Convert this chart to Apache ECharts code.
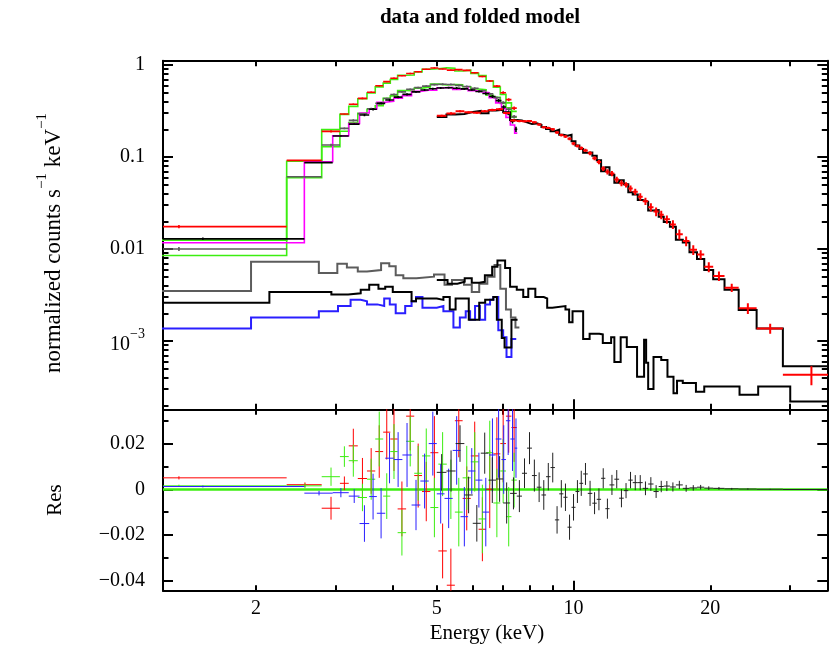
<!DOCTYPE html>
<html><head><meta charset="utf-8">
<script src="https://cdn.jsdelivr.net/npm/echarts@6/dist/echarts.min.js"></script>
<style>html,body{margin:0;padding:0;background:#fff}#c{width:830px;height:645px}</style>
</head><body><div id="c"></div>
<script>
// ---------------- data (energies in keV, values in counts s^-1 keV^-1) ----------------
const specA_edges = [0.37, 2.336, 2.79, 3.06, 3.2, 3.35, 3.51, 3.66, 3.81, 3.95, 4.1, 4.28, 4.46, 4.64, 4.84, 5.04, 5.26, 5.48, 5.7, 5.94, 6.18, 6.42, 6.66, 6.9, 7.1, 7.3, 7.5];
const specA_val = [0.0175, 0.092, 0.19, 0.293, 0.374, 0.434, 0.505, 0.595, 0.66, 0.717, 0.765, 0.81, 0.846, 0.898, 0.928, 0.905, 0.88, 0.89, 0.875, 0.825, 0.75, 0.67, 0.59, 0.50, 0.42, 0.34];
const specA_err = [0.0007, 0.001, 0.005, 0.003, 0.0075, 0.009, 0.01, 0.0115, 0.012, 0.014, 0.012, 0.015, 0.014, 0.013, 0.016, 0.012, 0.016, 0.016, 0.014, 0.015, 0.014, 0.017, 0.016, 0.017, 0.016, 0.015];
const specA_res = [0.005, 0.002, -0.0083, 0.0026, 0.019, 0.0047, 0.008, 0.0165, 0.025, 0.022, -0.0086, 0.032, 0.006, -0.001, 0.016, -0.027, -0.042, 0.030, -0.004, 0.0146, -0.0175, 0.0, 0.0155, 0.02, 0.032, 0.027];

const specB_edges = [0.37, 2.336, 2.79, 3.06, 3.2, 3.35, 3.51, 3.66, 3.81, 3.95, 4.1, 4.28, 4.46, 4.64, 4.84, 5.04, 5.26, 5.48, 5.7, 5.94, 6.18, 6.42, 6.66, 6.9, 7.1, 7.3, 7.5];
const specB_val = [0.010, 0.061, 0.135, 0.205, 0.250, 0.295, 0.335, 0.383, 0.432, 0.478, 0.51, 0.545, 0.568, 0.59, 0.612, 0.618, 0.615, 0.60, 0.585, 0.56, 0.525, 0.485, 0.44, 0.39, 0.33, 0.275];
const specB_err = [0.0005, 0.001, 0.004, 0.0045, 0.007, 0.006, 0.009, 0.012, 0.01, 0.012, 0.01, 0.011, 0.012, 0.012, 0.013, 0.014, 0.013, 0.015, 0.014, 0.013, 0.015, 0.014, 0.015, 0.014, 0.013, 0.012];
const specB_res = [0.0015, 0.0015, 0.0055, 0.0143, 0.0125, -0.0036, 0.0044, 0.022, -0.003, 0.0165, -0.019, 0.021, 0.007, 0.0146, -0.008, 0.011, 0.0, -0.010, 0.005, 0.012, -0.013, 0.016, -0.006, 0.008, -0.012, 0.004];

const specC_edges = [0.5, 2.555, 2.95, 3.2, 3.38, 3.55, 3.69, 3.85, 4.02, 4.2, 4.4, 4.6, 4.8, 5.0, 5.2, 5.42, 5.64, 5.86, 6.08, 6.3, 6.52, 6.74, 6.94, 7.1, 7.26, 7.42, 7.52];
const specC_val = [0.0129, 0.087, 0.169, 0.228, 0.286, 0.33, 0.383, 0.416, 0.448, 0.48, 0.51, 0.535, 0.552, 0.563, 0.567, 0.56, 0.55, 0.535, 0.515, 0.49, 0.455, 0.41, 0.35, 0.30, 0.245, 0.20];
const specC_err = [0.0004, 0.001, 0.002, 0.003, 0.008, 0.01, 0.011, 0.011, 0.012, 0.014, 0.011, 0.012, 0.014, 0.013, 0.013, 0.015, 0.013, 0.01, 0.012, 0.015, 0.016, 0.017, 0.015, 0.015, 0.014, 0.013];
const specC_res = [0.0012, -0.0017, -0.0015, -0.003, -0.015, -0.0032, -0.0105, 0.0136, 0.013, 0.015, -0.0069, 0.0036, 0.020, -0.002, -0.004, 0.017, -0.012, 0.008, 0.004, -0.010, 0.015, 0.022, 0.013, 0.030, 0.022, 0.018];

const specD_edges = [5.0, 5.25, 5.5, 5.75, 6.0, 6.25, 6.5, 6.75, 7.0, 7.25, 7.5, 7.7, 7.9, 8.1, 8.3, 8.5, 8.7, 8.9, 9.1, 9.3, 9.5, 9.7, 9.9, 10.1, 10.3, 10.5, 10.75, 11.0, 11.25, 11.5, 11.75, 12.0, 12.3, 12.6, 12.9, 13.2, 13.5, 13.85, 14.2, 14.6, 15.0, 15.4, 15.8, 16.3, 16.8, 17.4, 18.0, 18.7, 19.4, 20.3, 21.5, 23.1, 25.3, 28.9, 37.9];
const specD_val = [0.280, 0.298, 0.314, 0.306, 0.303, 0.315, 0.324, 0.330, 0.300, 0.250, 0.246, 0.245, 0.246, 0.238, 0.225, 0.210, 0.207, 0.200, 0.185, 0.173, 0.167, 0.158, 0.140, 0.132, 0.125, 0.118, 0.110, 0.097, 0.088, 0.075, 0.069, 0.066, 0.057, 0.052, 0.050, 0.0455, 0.042, 0.037, 0.033, 0.0285, 0.0255, 0.0236, 0.021, 0.0185, 0.0145, 0.0122, 0.0098, 0.0087, 0.0064, 0.0051, 0.0038, 0.00227, 0.00137, 0.00043];
const specD_err = [0.008, 0.009, 0.008, 0.008, 0.008, 0.009, 0.01, 0.01, 0.009, 0.007, 0.007, 0.0065, 0.007, 0.007, 0.0065, 0.0065, 0.006, 0.0065, 0.006, 0.006, 0.006, 0.0055, 0.0058, 0.005, 0.0055, 0.0048, 0.0055, 0.0048, 0.0048, 0.0044, 0.0044, 0.0044, 0.004, 0.004, 0.0033, 0.0036, 0.0033, 0.0033, 0.003, 0.003, 0.0028, 0.0025, 0.0022, 0.002, 0.0018, 0.0015, 0.0012, 0.001, 0.0008, 0.0006, 0.0004, 0.0003, 0.00017, 0.0001];
const specD_res = [0.0074, 0.008, 0.020, -0.0025, -0.0149, 0.0158, 0.004, 0.0045, -0.006, -0.0018, -0.003, 0.007, 0.018, 0.006, 0.0009, -0.0025, 0.0055, 0.0095, -0.0134, -0.002, -0.0035, -0.0166, -0.0079, -0.001, 0.0026, 0.0067, -0.0018, -0.0061, -0.0044, 0.0048, -0.0085, 0.0019, 0.0044, -0.0039, -0.0006, 0.004, 0.0029, 0.0029, 0.0004, 0.0023, -0.001, 0.0012, 0.0014, 0.001, 0.0019, 0.0004, 0.0006, 0.0009, 0.0005, 0.0004, 0.0002, 0.0001, 0.0, -0.0001];

const bgGray_edges = [0.4, 1.95, 2.75, 3.02, 3.17, 3.35, 3.51, 3.77, 3.93, 4.06, 4.22, 4.51, 4.93, 5.2, 5.4, 5.74, 5.97, 6.2, 6.46, 6.7, 6.9, 7.1, 7.28, 7.45, 7.6];
const bgGray_val = [0.00349, 0.00727, 0.0055, 0.0069, 0.0063, 0.0057, 0.0059, 0.0070, 0.0065, 0.0052, 0.0048, 0.0050, 0.0053, 0.0041, 0.0046, 0.0041, 0.0034, 0.0042, 0.0050, 0.0067, 0.0037, 0.0022, 0.0018, 0.0014];

const bgBlue_edges = [0.4, 1.95, 2.75, 3.03, 3.23, 3.4, 3.51, 3.7, 3.83, 3.94, 4.06, 4.26, 4.4, 4.5, 4.65, 5.0, 5.17, 5.44, 5.62, 5.79, 5.92, 6.07, 6.22, 6.39, 6.55, 6.66, 6.83, 7.0, 7.12, 7.3, 7.48];
const bgBlue_val = [0.00137, 0.0018, 0.0021, 0.0024, 0.0028, 0.0027, 0.0025, 0.0024, 0.0029, 0.0025, 0.002, 0.0024, 0.0027, 0.003, 0.0023, 0.0024, 0.0021, 0.0014, 0.0018, 0.0021, 0.0017, 0.0024, 0.0017, 0.0025, 0.0028, 0.003, 0.00131, 0.0011, 0.00067, 0.00105];

const bgBlackLo_edges = [0.4, 2.14, 2.93, 3.19, 3.4, 3.55, 3.72, 3.85, 4.0, 4.4, 4.5, 5.0, 5.17, 5.34, 5.5, 5.88, 6.0, 6.2, 6.39, 6.66, 6.78, 6.95, 7.05, 7.3, 7.53];
const bgBlackLo_val = [0.0026, 0.0034, 0.0032, 0.0033, 0.0036, 0.0041, 0.0037, 0.0039, 0.0034, 0.0027, 0.0029, 0.0028, 0.0030, 0.0022, 0.0029, 0.0017, 0.0017, 0.0026, 0.0028, 0.0030, 0.0017, 0.00108, 0.00085, 0.0017];

const bgBlackHi_edges = [5.0, 5.28, 5.55, 5.76, 5.97, 6.2, 6.38, 6.62, 6.8, 7.07, 7.25, 7.5, 7.75, 7.95, 8.24, 8.6, 8.75, 8.98, 9.6, 9.78, 9.95, 10.5, 10.85, 11.4, 11.6, 12.1, 12.3, 12.7, 13.1, 13.8, 14.3, 14.45, 14.6, 15.0, 15.6, 16.1, 16.6, 16.9, 17.4, 18.6, 19.4, 23.2, 25.5, 30.0, 37.9];
const bgBlackHi_val = [0.0046, 0.0042, 0.0044, 0.0048, 0.0043, 0.0044, 0.0052, 0.0064, 0.0075, 0.0062, 0.0039, 0.0036, 0.0030, 0.0037, 0.0030, 0.0029, 0.0023, 0.0024, 0.0022, 0.0016, 0.0021, 0.00105, 0.0012, 0.00118, 0.00095, 0.0011, 0.00059, 0.0011, 0.00086, 0.00041, 0.00103, 0.00058, 0.0003, 0.00067, 0.00062, 0.00041, 0.00027, 0.00037, 0.00035, 0.00028, 0.00032, 0.00026, 0.00032, 0.00022];

// axis ranges and ticks
const X_MIN = 1.248, X_MAX = 36.2;
const TOP_Y_MIN = 1.81e-4, TOP_Y_MAX = 1.114;
const RES_Y_MIN = -0.0444, RES_Y_MAX = 0.035;
const xLabelValues = [2, 5, 10, 20];
const xLabelTexts = ['2', '5', '10', '20'];
const xMajorTicks = [10];
const xMinorTicks = [2, 3, 4, 5, 6, 7, 8, 9, 20, 30];
const topYLabelValues = [0.001, 0.01, 0.1, 1];
const topYLabelTexts = ['10^−3', '0.01', '0.1', '1'];
const resYLabelValues = [-0.04, -0.02, 0, 0.02];
const resYLabelTexts = ['−0.04', '−0.02', '0', '0.02'];
const resYMinorTicks = [-0.03, -0.01, 0.01, 0.03];

// ---------------- helpers ----------------
const FONT = 'Liberation Serif';
const topYMinorTicks = [];
[1e-4, 1e-3, 1e-2, 1e-1].forEach(d => { for (let m = 2; m <= 9; m++) topYMinorTicks.push(+(m * d).toPrecision(3)); });

function steps(edges, vals) {
  const pts = [];
  vals.forEach((v, i) => { pts.push([edges[i], v]); pts.push([edges[i + 1], v]); });
  return pts;
}
function modelOf(vals, res) { return vals.map((v, i) => v - res[i]); }
function crossData(edges, vals, errs) {
  return vals.map((v, i) => [(edges[i] + edges[i + 1]) / 2, v, edges[i], edges[i + 1], errs[i]]);
}
function stepSeries(edges, vals, color, width, xi, yi, z) {
  return { type: 'line', xAxisIndex: xi, yAxisIndex: yi, data: steps(edges, vals), symbol: 'none', showSymbol: false,
    silent: true, animation: false, z: z, clip: true,
    lineStyle: { color: color, width: width, join: 'miter' } };
}
function crossSeries(data, color, width, xi, yi, isLog, z) {
  return { type: 'custom', xAxisIndex: xi, yAxisIndex: yi, data: data, clip: true, silent: true, animation: false, z: z,
    encode: { x: 0, y: 1 },
    renderItem: function (params, api) {
      const c = api.value(0), v = api.value(1), lo = api.value(2), hi = api.value(3), e = api.value(4);
      const low = isLog ? Math.max(v - e, v * 0.05) : v - e;
      const a = api.coord([lo, v]), b = api.coord([hi, v]);
      const t = api.coord([c, v + e]), d = api.coord([c, low]);
      const st = { stroke: color, lineWidth: width, fill: null };
      return { type: 'group', children: [
        { type: 'line', shape: { x1: a[0], y1: a[1], x2: b[0], y2: b[1] }, style: st },
        { type: 'line', shape: { x1: t[0], y1: t[1], x2: d[0], y2: d[1] }, style: st }
      ] };
    } };
}
function resData(edges, res, errs) {
  return res.map((r, i) => [(edges[i] + edges[i + 1]) / 2, r, edges[i], edges[i + 1], errs[i]]);
}
function pickLabel(values, texts, v) {
  let best = 0, bd = Infinity;
  values.forEach((x, i) => { const dd = Math.abs(x - v); if (dd < bd) { bd = dd; best = i; } });
  return texts[best];
}

const labelStyle = { color: '#000', fontFamily: FONT, fontSize: 20 };
function xAx(grid, pos, ticks, len, type, opts) {
  opts = opts || {};
  return { type: 'log', logBase: 10, gridIndex: grid, position: pos, min: X_MIN, max: X_MAX,
    axisLine: { show: !!opts.line, onZero: false, lineStyle: { color: '#000', width: 2 } },
    axisTick: { show: true, inside: true, length: len, customValues: ticks, lineStyle: { color: '#000', width: 2 } },
    splitLine: { show: false }, minorTick: { show: false },
    axisLabel: opts.labels ? Object.assign({ show: true, customValues: xLabelValues, margin: 8,
      formatter: v => pickLabel(xLabelValues, xLabelTexts, v) }, labelStyle) : { show: false } };
}
function yTopAx(grid, pos, ticks, len, opts) {
  opts = opts || {};
  return { type: 'log', logBase: 10, gridIndex: grid, position: pos, min: TOP_Y_MIN, max: TOP_Y_MAX,
    axisLine: { show: !!opts.line, onZero: false, lineStyle: { color: '#000', width: 2 } },
    axisTick: { show: true, inside: true, length: len, customValues: ticks, lineStyle: { color: '#000', width: 2 } },
    splitLine: { show: false }, minorTick: { show: false },
    axisLabel: opts.labels ? Object.assign({ show: true, customValues: topYLabelValues, margin: 18,
      formatter: v => { const s = pickLabel(topYLabelValues, topYLabelTexts, v);
        if (s.indexOf('^') >= 0) { const p = s.split('^'); return '{b|' + p[0] + '}{s|' + p[1] + '}'; } return s; },
      rich: { b: { fontFamily: FONT, fontSize: 20, color: '#000', lineHeight: 28, verticalAlign: 'bottom' },
              s: { fontFamily: FONT, fontSize: 14, color: '#000', lineHeight: 14, verticalAlign: 'top' } } }, labelStyle) : { show: false } };
}
function yResAx(grid, pos, ticks, len, opts) {
  opts = opts || {};
  return { type: 'value', gridIndex: grid, position: pos, min: RES_Y_MIN, max: RES_Y_MAX,
    axisLine: { show: !!opts.line, onZero: false, lineStyle: { color: '#000', width: 2 } },
    axisTick: { show: true, inside: true, length: len, customValues: ticks, lineStyle: { color: '#000', width: 2 } },
    splitLine: { show: false }, minorTick: { show: false },
    axisLabel: opts.labels ? Object.assign({ show: true, customValues: resYLabelValues, margin: 18,
      formatter: v => pickLabel(resYLabelValues, resYLabelTexts, v) }, labelStyle) : { show: false } };
}

const GL = 163, GW = 664.3, T0 = 60.7, H0 = 348.6, T1 = 409.3, H1 = 181.4;
const grids = [
  { left: GL, top: T0, width: GW, height: H0 },
  { left: GL, top: T1, width: GW, height: H1 },
  { left: GL, top: T0, width: GW, height: H0 },
  { left: GL, top: T1, width: GW, height: H1 }
];
const xAxes = [
  xAx(0, 'bottom', xMinorTicks, 5.5, 'log', { line: true }),
  xAx(0, 'top', xMinorTicks, 5.5, 'log', { line: true }),
  xAx(2, 'bottom', xMajorTicks, 10, 'log'),
  xAx(2, 'top', xMajorTicks, 10, 'log'),
  xAx(1, 'bottom', xMinorTicks, 5.5, 'log', { line: true, labels: true }),
  xAx(1, 'top', xMinorTicks, 5.5, 'log', { line: true }),
  xAx(3, 'bottom', xMajorTicks, 10, 'log'),
  xAx(3, 'top', xMajorTicks, 10, 'log')
];
const yAxes = [
  yTopAx(0, 'left', topYLabelValues, 10, { line: true, labels: true }),
  yTopAx(0, 'right', topYLabelValues, 10, { line: true }),
  yTopAx(2, 'left', topYMinorTicks, 5.5),
  yTopAx(2, 'right', topYMinorTicks, 5.5),
  yResAx(1, 'left', resYLabelValues, 10, { line: true, labels: true }),
  yResAx(1, 'right', resYLabelValues, 10, { line: true }),
  yResAx(3, 'left', resYMinorTicks, 5.5),
  yResAx(3, 'right', resYMinorTicks, 5.5)
];

const GREEN = '#3cee10', RED = '#ff0000', MAGENTA = '#ff00ff', GRAY = '#5c5c5c', BLUE = '#2a1fff';
const series = [
  // backgrounds
  stepSeries(bgGray_edges, bgGray_val, GRAY, 2, 0, 0, 2),
  stepSeries(bgBlue_edges, bgBlue_val, BLUE, 2, 0, 0, 2),
  stepSeries(bgBlackLo_edges, bgBlackLo_val, '#000', 2, 0, 0, 3),
  stepSeries(bgBlackHi_edges, bgBlackHi_val, '#000', 2, 0, 0, 3),
  // models
  stepSeries(specA_edges, modelOf(specA_val, specA_res), GREEN, 1.6, 0, 0, 4),
  stepSeries(specB_edges, modelOf(specB_val, specB_res), GREEN, 1.6, 0, 0, 4),
  stepSeries(specC_edges, modelOf(specC_val, specC_res), MAGENTA, 1.6, 0, 0, 4),
  stepSeries(specD_edges, modelOf(specD_val, specD_res), '#000', 2, 0, 0, 4),
  // data
  crossSeries(crossData(specA_edges, specA_val, specA_err), RED, 1.6, 0, 0, true, 5),
  crossSeries(crossData(specB_edges, specB_val, specB_err), GRAY, 1.6, 0, 0, true, 5),
  crossSeries(crossData(specC_edges, specC_val, specC_err), '#000', 1.6, 0, 0, true, 5),
  crossSeries(crossData(specD_edges, specD_val, specD_err), RED, 2, 0, 0, true, 5),
  // residuals
  crossSeries(resData(specA_edges, specA_res, specA_err), RED, 1, 4, 4, false, 5),
  crossSeries(resData(specB_edges, specB_res, specB_err), GREEN, 1, 4, 4, false, 5),
  crossSeries(resData(specC_edges, specC_res, specC_err), BLUE, 1, 4, 4, false, 5),
  crossSeries(resData(specD_edges, specD_res, specD_err), '#222', 1, 4, 4, false, 5),
  { type: 'line', xAxisIndex: 4, yAxisIndex: 4, data: resData(specD_edges, specD_res, specD_err).map(p => [p[0], p[1]]),
    symbol: 'none', showSymbol: false, silent: true, animation: false, lineStyle: { opacity: 0 }, z: 8,
    markLine: { silent: true, symbol: 'none', animation: false, label: { show: false },
      lineStyle: { color: GREEN, width: 2.5, type: 'solid', opacity: 1 }, data: [{ yAxis: 0 }] } }
];

const chart = echarts.init(document.getElementById('c'), null, { renderer: 'canvas', width: 830, height: 645 });
chart.setOption({
  backgroundColor: '#fff',
  animation: false,
  grid: grids,
  xAxis: xAxes,
  yAxis: yAxes,
  series: series,
  graphic: [
    { type: 'text', x: 480, y: 18, style: { text: 'data and folded model', fontFamily: FONT, fontSize: 21, fontWeight: 'bold',
      fill: '#000', textAlign: 'center', textVerticalAlign: 'middle' } },
    { type: 'text', x: 50, y: 243, rotation: Math.PI / 2,
      style: { text: '{a|normalized counts s}{s|−1}{a| keV}{s|−1}', textAlign: 'center', textVerticalAlign: 'middle',
        rich: { a: { fontFamily: FONT, fontSize: 23, fill: '#000', color: '#000', lineHeight: 30, verticalAlign: 'bottom' },
                s: { fontFamily: FONT, fontSize: 15, fill: '#000', color: '#000', lineHeight: 15, verticalAlign: 'top' } } } },
    { type: 'text', x: 55, y: 500, rotation: Math.PI / 2, style: { text: 'Res', fontFamily: FONT, fontSize: 21, fill: '#000',
      textAlign: 'center', textVerticalAlign: 'middle' } },
    { type: 'text', x: 487, y: 633, style: { text: 'Energy (keV)', fontFamily: FONT, fontSize: 21, fill: '#000',
      textAlign: 'center', textVerticalAlign: 'middle' } }
  ]
});
</script>
</body></html>
